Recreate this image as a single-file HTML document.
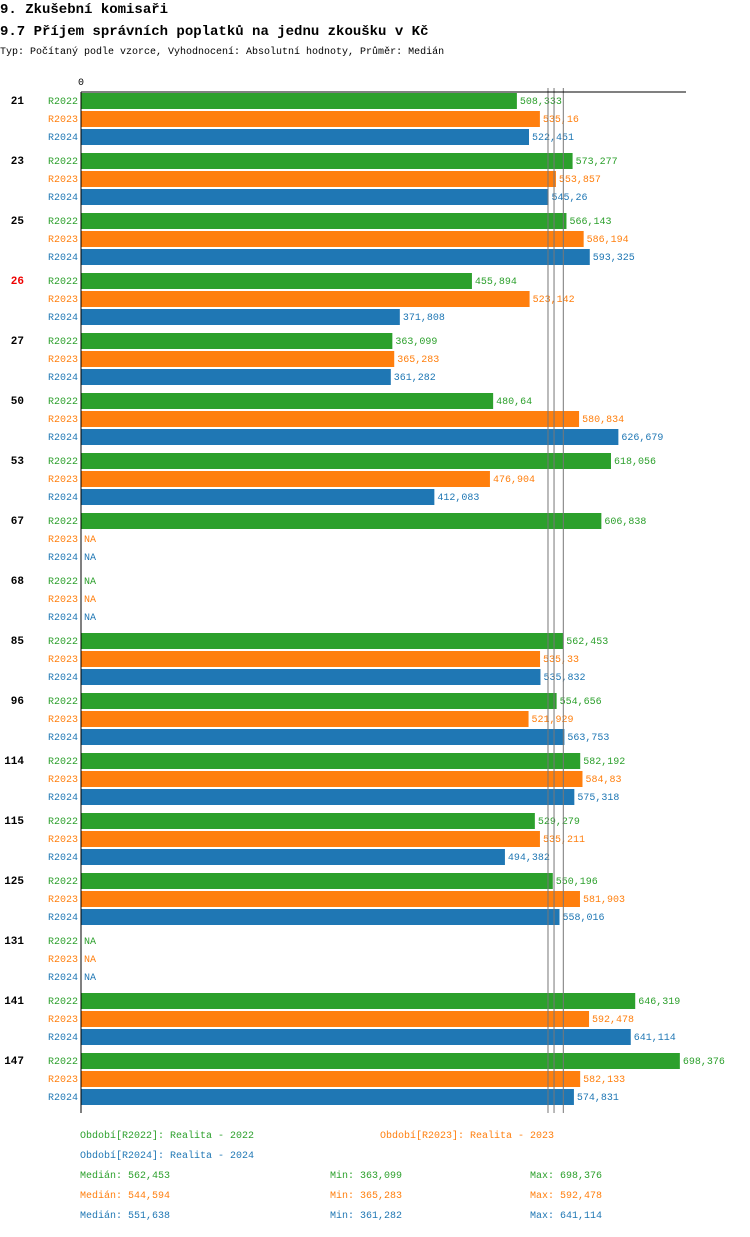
<!DOCTYPE html>
<html><head><meta charset="utf-8"><style>
body{margin:0;background:#fff;width:750px;height:1232px;overflow:hidden;font-family:"Liberation Mono",monospace}
svg text{font-family:"Liberation Mono","DejaVu Sans Mono",monospace}
</style></head><body>
<svg id="c" width="750" height="1232" xmlns="http://www.w3.org/2000/svg">
<text x="0" y="13" font-size="14" font-weight="bold">9. Zkušební komisaři</text>
<text x="0" y="35" font-size="14" font-weight="bold">9.7 Příjem správních poplatků na jednu zkoušku v Kč</text>
<text x="0" y="54" font-size="10">Typ: Počítaný podle vzorce, Vyhodnocení: Absolutní hodnoty, Průměr: Medián</text>
<text x="81" y="85" font-size="10" text-anchor="middle">0</text>
<g id="g"></g>
<line x1="81" y1="92" x2="686" y2="92" stroke="#000"/>
<line x1="81" y1="92" x2="81" y2="1113" stroke="#000"/>
<text x="80" y="1138" font-size="10" fill="#2ca02c">Období[R2022]: Realita - 2022</text>
<text x="380" y="1138" font-size="10" fill="#ff7f0e">Období[R2023]: Realita - 2023</text>
<text x="80" y="1158" font-size="10" fill="#1f77b4">Období[R2024]: Realita - 2024</text>
</svg>
<script>
const categories=["21","23","25","26","27","50","53","67","68","85","96","114","115","125","131","141","147"];
const series=["R2022","R2023","R2024"];
const r2022=[508.333,573.277,566.143,455.894,363.099,480.64,618.056,606.838,null,562.453,554.656,582.192,529.279,550.196,null,646.319,698.376];
const r2023=[535.16,553.857,586.194,523.142,365.283,580.834,476.904,null,null,535.33,521.929,584.83,535.211,581.903,null,592.478,582.133];
const r2024=[522.451,545.26,593.325,371.808,361.282,626.679,412.083,null,null,535.832,563.753,575.318,494.382,558.016,null,641.114,574.831];
const medians=[562.453,544.594,551.638];
const mins=[363.099,365.283,361.282];
const maxs=[698.376,592.478,641.114];
const colors=["#2ca02c","#ff7f0e","#1f77b4"];
const NS="http://www.w3.org/2000/svg";
const g=document.getElementById('g');
const x=v=>81+v*0.8575;
const fmt=v=>String(v).replace('.',',');
function mk(t,a,txt){const e=document.createElementNS(NS,t);for(const k in a)e.setAttribute(k,a[k]);if(txt!==undefined)e.textContent=txt;g.appendChild(e);return e;}
const data=[r2022,r2023,r2024];
categories.forEach((c,i)=>{
  const y0=93+60*i;
  const lab=mk('text',{x:24,y:y0+11,'font-size':11,'font-weight':'bold','text-anchor':'end',fill:c==="26"?"#e00":"#000"},c);
  
  
  series.forEach((s,j)=>{
    const y=y0+18*j;const v=data[j][i];
    const sl=mk('text',{x:78,y:y+11,'font-size':10,'text-anchor':'end',fill:colors[j]},s);
    
    
    if(v!==null){
      const r=mk('rect',{x:81,y:y,width:x(v)-81,height:16,fill:colors[j]});
      
      
    }
    const vt=mk('text',{x:(v===null?81:x(v))+3,y:y+11,'font-size':10,fill:colors[j]},v===null?"NA":fmt(v));
    
    
  });
});
medians.forEach((m,j)=>{
  const l=mk('line',{x1:x(m),x2:x(m),y1:88,y2:1113,stroke:"#777",'stroke-width':1});
  
  
});
series.forEach((s,j)=>{
  const y=1178+20*j;
  const a=mk('text',{x:80,y:y,'font-size':10,fill:colors[j]},"Medián: "+fmt(medians[j]));
  
  
  const b=mk('text',{x:330,y:y,'font-size':10,fill:colors[j]},"Min: "+fmt(mins[j]));
  
  
  const d=mk('text',{x:530,y:y,'font-size':10,fill:colors[j]},"Max: "+fmt(maxs[j]));
  
  
});
</script>
</body></html>
